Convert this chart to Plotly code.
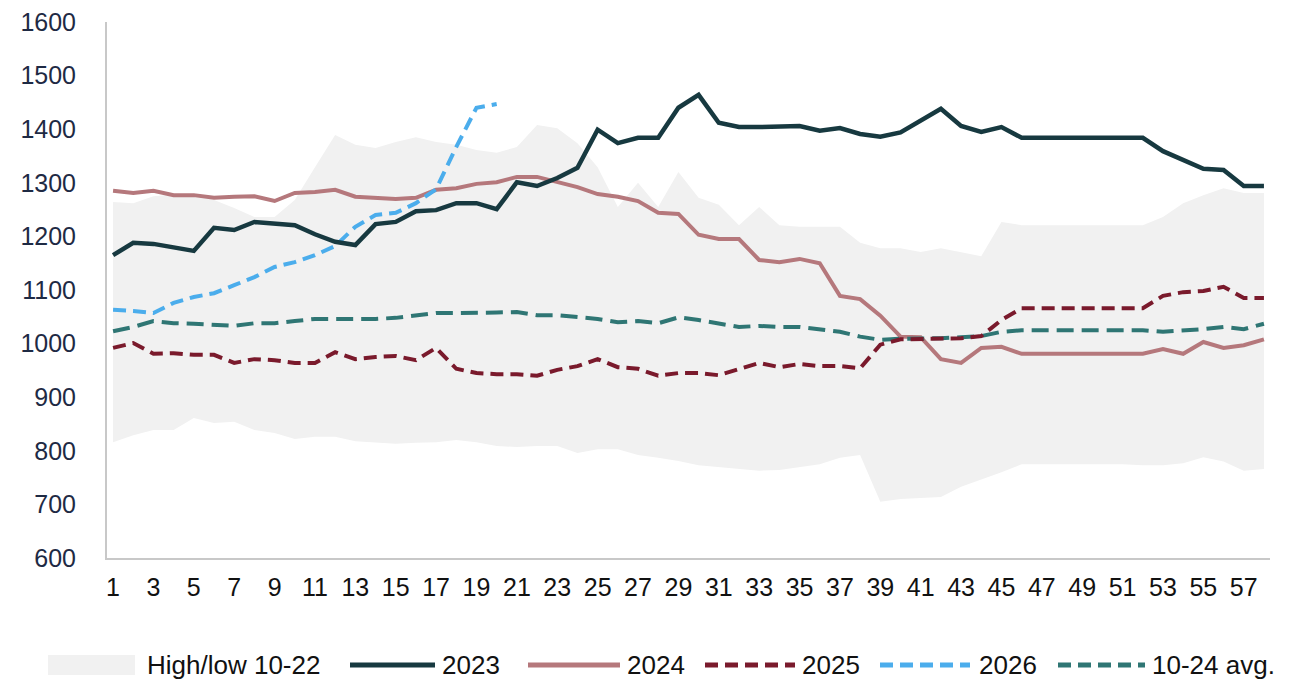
import plotly.graph_objects as go

weeks = list(range(1, 59))

band_low = [816, 829, 839, 839, 861, 852, 854, 839, 833, 822,
            826, 826, 818, 816, 813, 815, 816, 820, 816, 809,
            807, 809, 809, 796, 803, 803, 792, 787, 781, 773,
            770, 766, 763, 764, 770, 775, 787, 792, 705, 710,
            712, 714, 733, 746, 760, 775, 775, 775, 775, 775,
            775, 773, 773, 777, 788, 780, 763, 766]
band_high = [1264, 1262, 1275, 1278, 1278, 1268, 1253, 1236, 1236, 1268,
             1329, 1389, 1371, 1365, 1376, 1385, 1376, 1371, 1361, 1356,
             1367, 1408, 1402, 1374, 1329, 1255, 1300, 1255, 1320, 1272,
             1259, 1221, 1255, 1221, 1218, 1218, 1218, 1188, 1178, 1178,
             1171, 1178, 1171, 1163, 1227, 1221, 1221, 1221, 1221, 1221,
             1221, 1221, 1236, 1262, 1277, 1290, 1281, 1281]

y2023 = [1165, 1188, 1186, 1180, 1173, 1216, 1212, 1227, 1223, 1221,
         1204, 1190, 1184, 1223, 1227, 1247, 1249, 1262, 1262, 1251,
         1301, 1294, 1309, 1328, 1399, 1374, 1384, 1384, 1440, 1464,
         1412, 1404, 1404, 1404, 1406, 1397, 1402, 1391, 1386, 1394,
         1417, 1438, 1406, 1395, 1404, 1384, 1384, 1384, 1384, 1384,
         1384, 1384, 1359, 1343, 1326, 1324, 1294, 1294]
y2024 = [1285, 1281, 1285, 1277, 1277, 1272, 1274, 1275, 1266, 1281,
         1283, 1287, 1274, 1272, 1270, 1272, 1287, 1290, 1298, 1301,
         1311, 1311, 1301, 1292, 1279, 1274, 1266, 1244, 1242, 1203,
         1195, 1195, 1156, 1152, 1158, 1150, 1089, 1083, 1052, 1013,
         1012, 971, 964, 992, 994, 981, 981, 981, 981, 981,
         981, 981, 990, 981, 1003, 992, 997, 1008]
y2025 = [992, 1001, 981, 982, 979, 979, 964, 971, 969, 964,
         964, 984, 971, 975, 977, 969, 992, 953, 945, 943,
         943, 940, 951, 958, 971, 956, 953, 940, 945, 945,
         941, 953, 964, 956, 962, 958, 958, 954, 998, 1008,
         1009, 1009, 1010, 1014, 1044, 1066, 1066, 1066, 1066, 1066,
         1066, 1066, 1089, 1096, 1098, 1106, 1085, 1085]
weeks2026 = list(range(1, 21))
y2026 = [1063, 1061, 1057, 1076, 1087, 1094, 1109, 1124, 1143, 1152,
         1165, 1182, 1218, 1240, 1244, 1262, 1288, 1367, 1440, 1447]
yavg = [1023, 1031, 1042, 1038, 1037, 1035, 1033, 1038, 1038, 1042,
        1046, 1046, 1046, 1046, 1048, 1053, 1057, 1057, 1057, 1058,
        1059, 1053, 1053, 1049, 1046, 1040, 1042, 1038, 1049, 1044,
        1038, 1031, 1033, 1031, 1031, 1027, 1022, 1013, 1007, 1009,
        1009, 1010, 1012, 1014, 1022, 1025, 1025, 1025, 1025, 1025,
        1025, 1025, 1022, 1024, 1027, 1031, 1027, 1037]

x_ticks = list(range(1, 58, 2))
y_ticks = list(range(600, 1601, 100))

C_BAND = "#f1f1f1"
C23 = "#173940"
C24 = "#b5787c"
C25 = "#7a1a2c"
C26 = "#4badec"
CAVG = "#2f7674"

fig = go.Figure()
fig.add_trace(go.Scatter(x=weeks, y=band_low, mode="lines", line=dict(width=0, color=C_BAND),
                         showlegend=False, hoverinfo="skip"))
fig.add_trace(go.Scatter(x=weeks, y=band_high, mode="lines", line=dict(width=0, color=C_BAND),
                         fill="tonexty", fillcolor=C_BAND, name="High/low 10-22", showlegend=False))
fig.add_trace(go.Scatter(x=weeks, y=y2024, mode="lines", line=dict(color=C24, width=4), name="2024", showlegend=False))
fig.add_trace(go.Scatter(x=weeks, y=yavg, mode="lines", line=dict(color=CAVG, width=4, dash="17px,8px"),
                         name="10-24 avg.", showlegend=False))
fig.add_trace(go.Scatter(x=weeks, y=y2025, mode="lines", line=dict(color=C25, width=4, dash="13px,7px"),
                         name="2025", showlegend=False))
fig.add_trace(go.Scatter(x=weeks2026, y=y2026, mode="lines", line=dict(color=C26, width=4, dash="13px,7px"),
                         name="2026", showlegend=False))
fig.add_trace(go.Scatter(x=weeks, y=y2023, mode="lines", line=dict(color=C23, width=4.5), name="2023", showlegend=False))

# page offset of the plot div (body margin)
OFF = 8
# plot area in page pixels
L, R, T, B = 107, 1270, 22, 558
def px(x):
    return (x - L) / (R - L)
def py(y):
    return (B - y) / (B - T)

legend_items = [
    ("box", C_BAND, None, 48, 135, 145, "High/low 10-22"),
    ("line", C23, "solid", 350, 435, 440, "2023"),
    ("line", C24, "solid", 528, 620, 625, "2024"),
    ("line", C25, "dash", 705, 795, 800, "2025"),
    ("line", C26, "dash", 880, 970, 977, "2026"),
    ("line", CAVG, "dash", 1058, 1145, 1150, "10-24 avg."),
]
ly = 665
for kind, col, dash, x0, x1, tx, label in legend_items:
    if kind == "box":
        fig.add_shape(type="rect", xref="paper", yref="paper", x0=px(x0), x1=px(x1),
                      y0=py(ly + 10), y1=py(ly - 10), fillcolor=col, line=dict(width=0))
    else:
        fig.add_shape(type="line", xref="paper", yref="paper", x0=px(x0), x1=px(x1),
                      y0=py(ly), y1=py(ly), line=dict(color=col, width=5,
                      dash=("solid" if dash == "solid" else "13px,7px")))
    fig.add_annotation(text=label, xref="paper", yref="paper", x=px(tx), y=py(ly),
                       xanchor="left", yanchor="middle", showarrow=False,
                       font=dict(family="Liberation Sans Narrow, Arial Narrow, Arial", size=26, color="#111111"))

fig.update_layout(
    width=1296, height=684,
    margin=dict(l=L - OFF, r=1296 - (R - OFF), t=T - OFF, b=684 - (B - OFF)),
    paper_bgcolor="white", plot_bgcolor="white",
    showlegend=False,
    font=dict(family="Arial, Liberation Sans", color="#1e2a44"),
)
fig.update_xaxes(range=[0.7, 58.3], tickvals=x_ticks, ticktext=[str(v) for v in x_ticks],
                 showgrid=False, zeroline=False, showline=True, linecolor="#c8c8c8", linewidth=2,
                 ticks="", tickfont=dict(family="Liberation Sans Narrow, Arial Narrow, Arial", size=25, color="#111111"),
                 ticklabelstandoff=6, ticklabeloverflow="allow", automargin=False)
fig.update_yaxes(range=[600, 1600], tickvals=y_ticks, showgrid=False, zeroline=False,
                 showline=True, linecolor="#c8c8c8", linewidth=2, ticks="",
                 tickfont=dict(family="Arial, Liberation Sans", size=25, color="#1e2a44"),
                 ticklabelstandoff=24, ticklabeloverflow="allow", automargin=False)

fig.write_html("out.html")
